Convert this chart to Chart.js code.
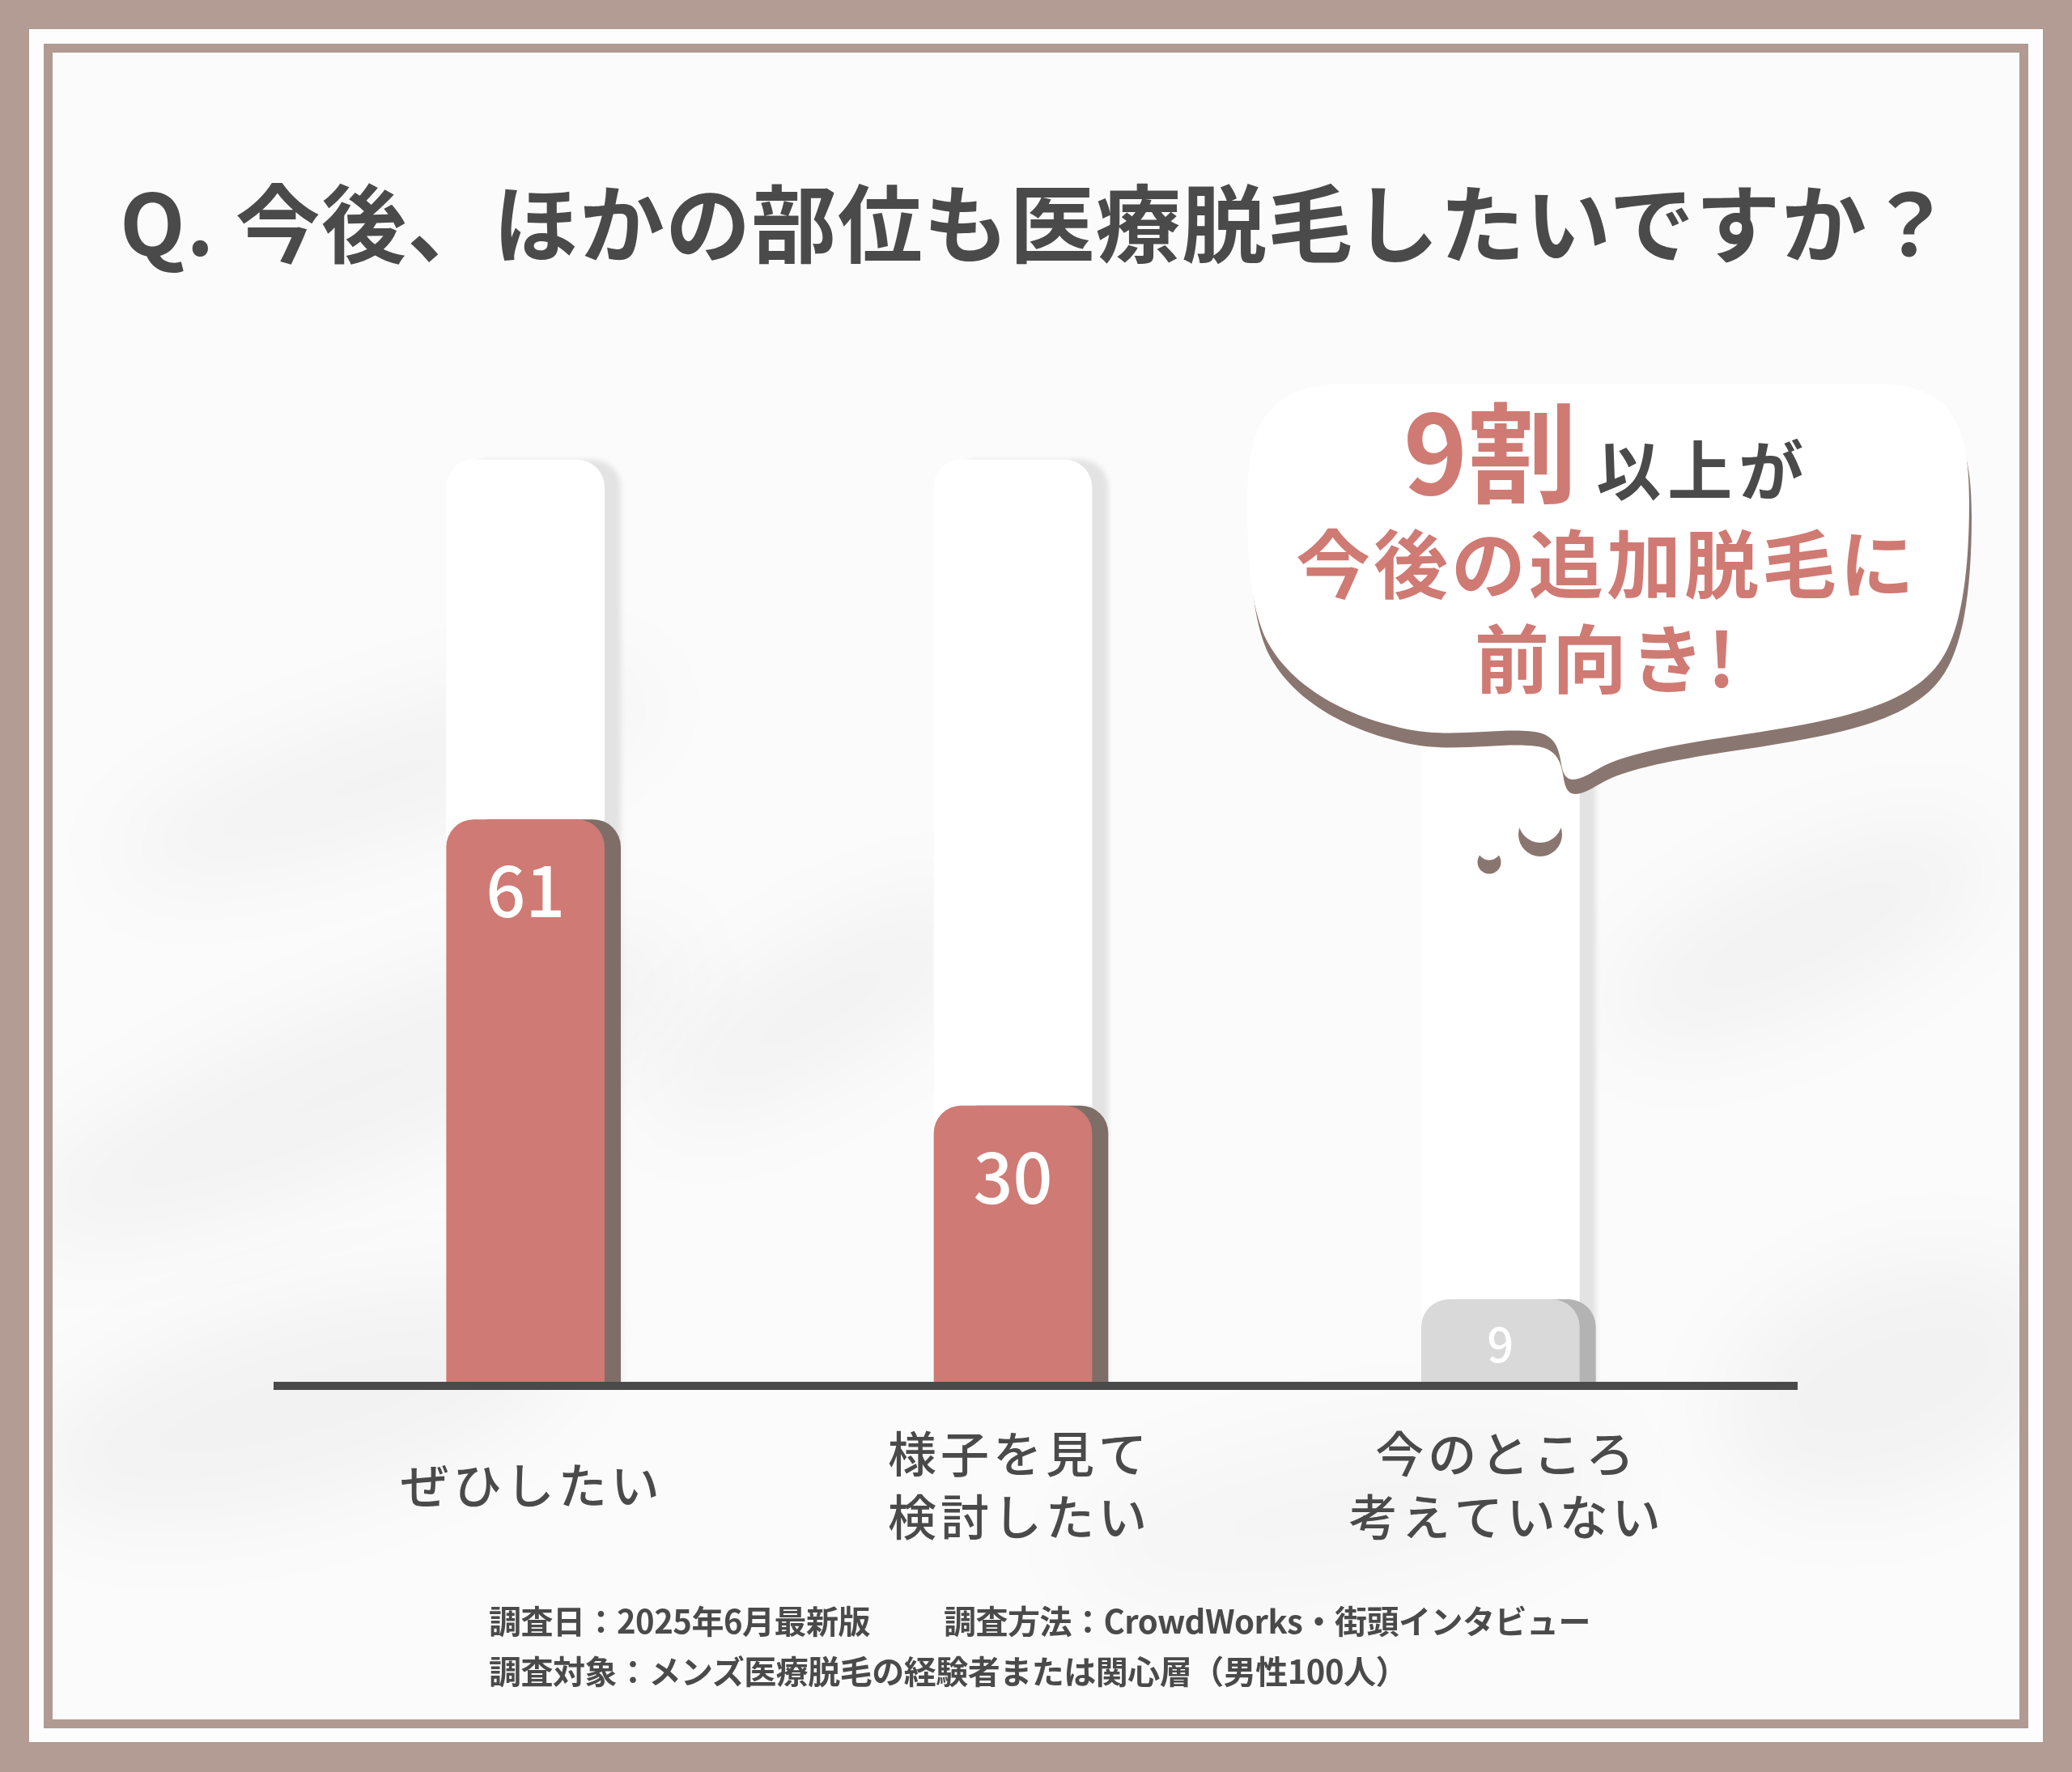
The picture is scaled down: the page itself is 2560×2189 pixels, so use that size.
<!DOCTYPE html>
<html lang="ja">
<head>
<meta charset="utf-8">
<script src="https://cdn.jsdelivr.net/npm/chart.js@4.4.1/dist/chart.umd.min.js"></script>
<style>
  html, body { margin: 0; padding: 0; }
  body { width: 2560px; height: 2189px; background: #b39c93; position: relative; overflow: hidden;
         font-family: "Noto Sans CJK JP", "Noto Sans", sans-serif; }
  .frame { position: absolute; left: 36px; top: 36px; width: 2488px; height: 2116px; background: #fdfdfd; }
  .inner { position: absolute; left: 54px; top: 54px; width: 2452px; height: 2081px; box-sizing: border-box;
           border: 11px solid #b09a91; background: #fbfbfb; overflow: hidden; }
  .blob { position: absolute; background: rgba(0,0,0,0.035); border-radius: 50%; filter: blur(55px); }
  #chart { position: absolute; left: 0; top: 0; }
  #overlay { position: absolute; left: 0; top: 0; }
</style>
</head>
<body>
<div class="frame"></div>
<div class="inner">
  <div class="blob" style="left:60px;top:820px;width:700px;height:150px;transform:rotate(-18deg)"></div>
  <div class="blob" style="left:-80px;top:1180px;width:900px;height:200px;transform:rotate(-22deg)"></div>
  <div class="blob" style="left:-40px;top:1550px;width:700px;height:240px;transform:rotate(-15deg)"></div>
  <div class="blob" style="left:700px;top:1100px;width:500px;height:160px;transform:rotate(-30deg)"></div>
  <div class="blob" style="left:1900px;top:1000px;width:520px;height:180px;transform:rotate(-25deg)"></div>
  <div class="blob" style="left:2050px;top:1500px;width:450px;height:280px;transform:rotate(-20deg)"></div>
  <div class="blob" style="left:1250px;top:1700px;width:700px;height:200px;transform:rotate(-10deg);background:rgba(0,0,0,0.025)"></div>
</div>
<canvas id="chart" width="2560" height="2189"></canvas>
<svg id="overlay" width="2560" height="2189" viewBox="0 0 2560 2189" xmlns="http://www.w3.org/2000/svg">
  <!-- title -->
  <text x="148" y="316" font-size="105" font-weight="700" fill="#4a4a4a" letter-spacing="1.3">Q. 今後、ほかの部位も医療脱毛したいですか？</text>

  <!-- speech bubble -->
  <g transform="translate(3,18)" fill="#8a7670">
    <path d="M 1541 620 C 1541 520, 1570 476, 1660 474 L 2320 474 C 2410 476, 2433 520, 2433 620 C 2433 700, 2425 780, 2395 820 C 2355 875, 2260 890, 2170 905 C 2080 918, 2010 930, 1978 948 C 1960 958, 1940 972, 1932 955 C 1926 940, 1930 915, 1905 906 C 1870 896, 1800 912, 1745 902 C 1660 886, 1590 845, 1562 785 C 1545 745, 1541 690, 1541 620 Z"/>
  </g>
  <path fill="#ffffff" d="M 1541 620 C 1541 520, 1570 476, 1660 474 L 2320 474 C 2410 476, 2433 520, 2433 620 C 2433 700, 2425 780, 2395 820 C 2355 875, 2260 890, 2170 905 C 2080 918, 2010 930, 1978 948 C 1960 958, 1940 972, 1932 955 C 1926 940, 1930 915, 1905 906 C 1870 896, 1800 912, 1745 902 C 1660 886, 1590 845, 1562 785 C 1545 745, 1541 690, 1541 620 Z"/>
  <circle cx="1903" cy="1031" r="27" fill="#8a7670"/>
  <circle cx="1903" cy="1014" r="27" fill="#ffffff"/>
  <circle cx="1840" cy="1065" r="14.5" fill="#8a7670"/>
  <circle cx="1840" cy="1048" r="14.5" fill="#ffffff"/>

  <text x="1985" y="611" text-anchor="middle" font-weight="700">
    <tspan font-size="135" fill="#d07a74">9割</tspan><tspan dx="24" font-size="80" fill="#4a4a4a" letter-spacing="8">以上が</tspan>
  </text>
  <text x="1985" y="732" text-anchor="middle" font-size="92" font-weight="700" fill="#d07a74" letter-spacing="4">今後の追加脱毛に</text>
  <text x="1985" y="849" text-anchor="middle" font-size="92" font-weight="700" fill="#d07a74" letter-spacing="4">前向き!</text>

  <!-- footer -->
  <text x="604" y="2018" font-size="40" font-weight="700" fill="#4a4a4a" letter-spacing="-0.5">調査日：2025年6月最新版</text>
  <text x="1166" y="2018" font-size="40" font-weight="700" fill="#4a4a4a" letter-spacing="-0.5">調査方法：CrowdWorks・街頭インタビュー</text>
  <text x="604" y="2080" font-size="40" font-weight="700" fill="#4a4a4a" letter-spacing="-0.5">調査対象：メンズ医療脱毛の経験者または関心層（男性100人）</text>
</svg>

<script>
const categories = [['ぜひしたい'], ['様子を見て', '検討したい'], ['今のところ', '考えていない']];
const values = [61, 30, 9];
const trackMax = [100, 100, 100];
const barColors = ['#cf7a74', '#cf7a74', '#d9d9d9'];
const barShadowColors = ['#7f6d67', '#7f6d67', '#b3b3b3'];

// draw each bar with a flat offset shadow on its right
const barShadow = {
    id: 'barShadow',
    beforeDatasetDraw(chart, args) {
        const ctx = chart.ctx;
        const ds = chart.data.datasets[args.index];
        args.meta.data.forEach((bar, i) => {
            ctx.save();
            ctx.shadowColor = ds.shadowColors[i];
            ctx.shadowOffsetX = 20;
            ctx.shadowOffsetY = 0;
            ctx.shadowBlur = ds.shadowBlur || 0;
            bar.draw(ctx, chart.chartArea);
            ctx.restore();
        });
        return false;
    }
};

const labelsAndBase = {
    id: 'labelsAndBase',
    afterDraw(chart) {
        const ctx = chart.ctx;
        const area = chart.chartArea;
        const xScale = chart.scales.x;

        // value labels inside the bars
        chart.getDatasetMeta(0).data.forEach((bar, i) => {
            const big = values[i] >= 20;
            ctx.save();
            ctx.fillStyle = '#ffffff';
            ctx.textAlign = 'center';
            ctx.textBaseline = 'middle';
            ctx.font = `500 ${big ? 86 : 58}px "Noto Sans CJK JP"`;
            const y = big ? bar.y + 88 : (bar.y + bar.base) / 2 + 4;
            ctx.fillText(String(values[i]), bar.x, y);
            ctx.restore();
        });

        // baseline
        ctx.fillStyle = '#4a4a4a';
        ctx.fillRect(area.left - 10, area.bottom - 1, area.right - area.left + 76, 10);

        // category labels, centred vertically as a block
        ctx.save();
        ctx.fillStyle = '#4a4a4a';
        ctx.textAlign = 'center';
        ctx.textBaseline = 'middle';
        ctx.font = '500 60px "Noto Sans CJK JP"';
        ctx.letterSpacing = '5px';
        const lineH = 78;
        const midY = 1835;
        categories.forEach((lines, i) => {
            const x = xScale.getPixelForValue(i) + 8;
            lines.forEach((t, j) => {
                ctx.fillText(t, x, midY - (lines.length - 1) * lineH / 2 + j * lineH);
            });
        });
        ctx.restore();
    }
};

new Chart(document.getElementById('chart'), {
    type: 'bar',
    data: {
        labels: categories,
        datasets: [
            {
                label: '回答',
                data: values,
                backgroundColor: barColors,
                shadowColors: barShadowColors,
                barThickness: 195,
                borderRadius: 34,
                borderSkipped: 'bottom',
                grouped: false,
                order: 0
            },
            {
                label: '全体',
                data: trackMax,
                backgroundColor: '#ffffff',
                shadowColors: ['#e3e3e3', '#e3e3e3', '#e3e3e3'],
                shadowBlur: 6,
                barThickness: 195,
                borderRadius: 34,
                borderSkipped: 'bottom',
                grouped: false,
                order: 1
            }
        ]
    },
    options: {
        responsive: false,
        animation: false,
        devicePixelRatio: 1,
        layout: { padding: { left: 348, right: 405, top: 568, bottom: 481 } },
        scales: {
            x: { display: false },
            y: { display: false, min: 0, max: 100 }
        },
        plugins: {
            legend: { display: false },
            tooltip: { enabled: false }
        }
    },
    plugins: [barShadow, labelsAndBase]
});
</script>
</body>
</html>
